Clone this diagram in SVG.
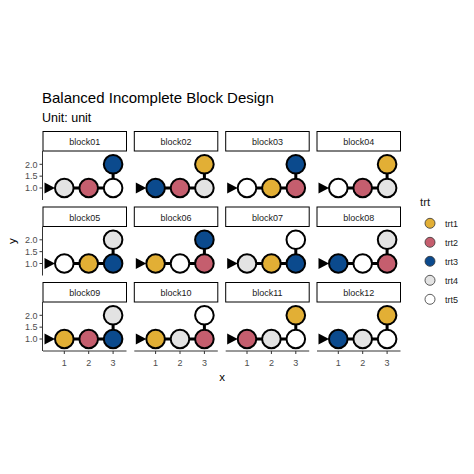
<svg xmlns="http://www.w3.org/2000/svg" width="474" height="474" viewBox="0 0 474 474">
<style>
text{font-family:"Liberation Sans",Arial,sans-serif}
.title{font-size:15px;fill:#000}
.sub{font-size:12.5px;fill:#000}
.strip rect{fill:#fff;stroke:#000;stroke-width:1}
.strip text{font-size:9px;fill:#1a1a1a;text-anchor:middle}
.pt{stroke:#000;stroke-width:2}
.t1{fill:#E2AF35}.t2{fill:#C55E6E}.t3{fill:#0B4A8D}.t4{fill:#E3E3E3}.t5{fill:#FFFFFF}
.conn path{stroke:#000;stroke-width:3;fill:none}
.conn polygon{fill:#000}
.axis line{stroke:#333;stroke-width:1}
.tick{font-size:9px;fill:#4d4d4d}
.atitle{font-size:11.5px;fill:#000}
.leg circle{stroke:#333;stroke-width:0.8}
.leg text{font-size:9px;fill:#1a1a1a}
</style>
<text class="title" x="42" y="103">Balanced Incomplete Block Design</text>
<text class="sub" x="42" y="122">Unit: unit</text>

<g class="conn" id="connectors">
<path d="M64.3 188H113.1V164.3"/><polygon points="44.5,182.5 44.5,193.5 55,188"/>
<path d="M155.6 188H204.4V164.3"/><polygon points="135.8,182.5 135.8,193.5 146.3,188"/>
<path d="M247 188H295.8V164.3"/><polygon points="227.2,182.5 227.2,193.5 237.7,188"/>
<path d="M338.3 188H387.1V164.3"/><polygon points="318.5,182.5 318.5,193.5 329,188"/>
<path d="M64.3 263.5H113.1V239.8"/><polygon points="44.5,258 44.5,269 55,263.5"/>
<path d="M155.6 263.5H204.4V239.8"/><polygon points="135.8,258 135.8,269 146.3,263.5"/>
<path d="M247 263.5H295.8V239.8"/><polygon points="227.2,258 227.2,269 237.7,263.5"/>
<path d="M338.3 263.5H387.1V239.8"/><polygon points="318.5,258 318.5,269 329,263.5"/>
<path d="M64.3 339H113.1V315.3"/><polygon points="44.5,333.5 44.5,344.5 55,339"/>
<path d="M155.6 339H204.4V315.3"/><polygon points="135.8,333.5 135.8,344.5 146.3,339"/>
<path d="M247 339H295.8V315.3"/><polygon points="227.2,333.5 227.2,344.5 237.7,339"/>
<path d="M338.3 339H387.1V315.3"/><polygon points="318.5,333.5 318.5,344.5 329,339"/>
</g>

<g id="block01" transform="translate(43,151)">
<g class="strip"><rect x="0" y="-19.5" width="83.5" height="19.5"/><text x="41.75" y="-6">block01</text></g>
<circle class="pt t4" cx="21.3" cy="37" r="9.3"/><circle class="pt t2" cx="45.7" cy="37" r="9.3"/><circle class="pt t5" cx="70.1" cy="37" r="9.3"/><circle class="pt t3" cx="70.1" cy="13.3" r="9.3"/>
</g>
<g id="block02" transform="translate(134.3,151)">
<g class="strip"><rect x="0" y="-19.5" width="83.5" height="19.5"/><text x="41.75" y="-6">block02</text></g>
<circle class="pt t3" cx="21.3" cy="37" r="9.3"/><circle class="pt t2" cx="45.7" cy="37" r="9.3"/><circle class="pt t4" cx="70.1" cy="37" r="9.3"/><circle class="pt t1" cx="70.1" cy="13.3" r="9.3"/>
</g>
<g id="block03" transform="translate(225.7,151)">
<g class="strip"><rect x="0" y="-19.5" width="83.5" height="19.5"/><text x="41.75" y="-6">block03</text></g>
<circle class="pt t5" cx="21.3" cy="37" r="9.3"/><circle class="pt t1" cx="45.7" cy="37" r="9.3"/><circle class="pt t2" cx="70.1" cy="37" r="9.3"/><circle class="pt t3" cx="70.1" cy="13.3" r="9.3"/>
</g>
<g id="block04" transform="translate(317,151)">
<g class="strip"><rect x="0" y="-19.5" width="83.5" height="19.5"/><text x="41.75" y="-6">block04</text></g>
<circle class="pt t5" cx="21.3" cy="37" r="9.3"/><circle class="pt t2" cx="45.7" cy="37" r="9.3"/><circle class="pt t4" cx="70.1" cy="37" r="9.3"/><circle class="pt t1" cx="70.1" cy="13.3" r="9.3"/>
</g>

<g id="block05" transform="translate(43,226.5)">
<g class="strip"><rect x="0" y="-19.5" width="83.5" height="19.5"/><text x="41.75" y="-6">block05</text></g>
<circle class="pt t5" cx="21.3" cy="37" r="9.3"/><circle class="pt t1" cx="45.7" cy="37" r="9.3"/><circle class="pt t3" cx="70.1" cy="37" r="9.3"/><circle class="pt t4" cx="70.1" cy="13.3" r="9.3"/>
</g>
<g id="block06" transform="translate(134.3,226.5)">
<g class="strip"><rect x="0" y="-19.5" width="83.5" height="19.5"/><text x="41.75" y="-6">block06</text></g>
<circle class="pt t1" cx="21.3" cy="37" r="9.3"/><circle class="pt t5" cx="45.7" cy="37" r="9.3"/><circle class="pt t2" cx="70.1" cy="37" r="9.3"/><circle class="pt t3" cx="70.1" cy="13.3" r="9.3"/>
</g>
<g id="block07" transform="translate(225.7,226.5)">
<g class="strip"><rect x="0" y="-19.5" width="83.5" height="19.5"/><text x="41.75" y="-6">block07</text></g>
<circle class="pt t4" cx="21.3" cy="37" r="9.3"/><circle class="pt t1" cx="45.7" cy="37" r="9.3"/><circle class="pt t3" cx="70.1" cy="37" r="9.3"/><circle class="pt t5" cx="70.1" cy="13.3" r="9.3"/>
</g>
<g id="block08" transform="translate(317,226.5)">
<g class="strip"><rect x="0" y="-19.5" width="83.5" height="19.5"/><text x="41.75" y="-6">block08</text></g>
<circle class="pt t3" cx="21.3" cy="37" r="9.3"/><circle class="pt t5" cx="45.7" cy="37" r="9.3"/><circle class="pt t2" cx="70.1" cy="37" r="9.3"/><circle class="pt t4" cx="70.1" cy="13.3" r="9.3"/>
</g>

<g id="block09" transform="translate(43,302)">
<g class="strip"><rect x="0" y="-19.5" width="83.5" height="19.5"/><text x="41.75" y="-6">block09</text></g>
<circle class="pt t1" cx="21.3" cy="37" r="9.3"/><circle class="pt t2" cx="45.7" cy="37" r="9.3"/><circle class="pt t3" cx="70.1" cy="37" r="9.3"/><circle class="pt t4" cx="70.1" cy="13.3" r="9.3"/>
</g>
<g id="block10" transform="translate(134.3,302)">
<g class="strip"><rect x="0" y="-19.5" width="83.5" height="19.5"/><text x="41.75" y="-6">block10</text></g>
<circle class="pt t1" cx="21.3" cy="37" r="9.3"/><circle class="pt t4" cx="45.7" cy="37" r="9.3"/><circle class="pt t2" cx="70.1" cy="37" r="9.3"/><circle class="pt t5" cx="70.1" cy="13.3" r="9.3"/>
</g>
<g id="block11" transform="translate(225.7,302)">
<g class="strip"><rect x="0" y="-19.5" width="83.5" height="19.5"/><text x="41.75" y="-6">block11</text></g>
<circle class="pt t2" cx="21.3" cy="37" r="9.3"/><circle class="pt t4" cx="45.7" cy="37" r="9.3"/><circle class="pt t5" cx="70.1" cy="37" r="9.3"/><circle class="pt t1" cx="70.1" cy="13.3" r="9.3"/>
</g>
<g id="block12" transform="translate(317,302)">
<g class="strip"><rect x="0" y="-19.5" width="83.5" height="19.5"/><text x="41.75" y="-6">block12</text></g>
<circle class="pt t3" cx="21.3" cy="37" r="9.3"/><circle class="pt t4" cx="45.7" cy="37" r="9.3"/><circle class="pt t5" cx="70.1" cy="37" r="9.3"/><circle class="pt t1" cx="70.1" cy="13.3" r="9.3"/>
</g>

<g class="axis" id="yaxis">
<line x1="42.5" y1="151" x2="42.5" y2="200"/>
<line x1="42.5" y1="226.5" x2="42.5" y2="275.5"/>
<line x1="42.5" y1="302" x2="42.5" y2="351"/>
<line x1="39.5" y1="164.3" x2="42.5" y2="164.3"/><line x1="39.5" y1="176.15" x2="42.5" y2="176.15"/><line x1="39.5" y1="188" x2="42.5" y2="188"/>
<line x1="39.5" y1="239.8" x2="42.5" y2="239.8"/><line x1="39.5" y1="251.65" x2="42.5" y2="251.65"/><line x1="39.5" y1="263.5" x2="42.5" y2="263.5"/>
<line x1="39.5" y1="315.3" x2="42.5" y2="315.3"/><line x1="39.5" y1="327.15" x2="42.5" y2="327.15"/><line x1="39.5" y1="339" x2="42.5" y2="339"/>
<g class="tick" text-anchor="end">
<text x="37.5" y="167.5">2.0</text><text x="37.5" y="179.3">1.5</text><text x="37.5" y="191.2">1.0</text>
<text x="37.5" y="243">2.0</text><text x="37.5" y="254.8">1.5</text><text x="37.5" y="266.7">1.0</text>
<text x="37.5" y="318.5">2.0</text><text x="37.5" y="330.3">1.5</text><text x="37.5" y="342.2">1.0</text>
</g>
</g>
<g class="axis" id="xaxis">
<line x1="43" y1="351" x2="126.5" y2="351"/>
<line x1="134.3" y1="351" x2="217.8" y2="351"/>
<line x1="225.7" y1="351" x2="309.2" y2="351"/>
<line x1="317" y1="351" x2="400.5" y2="351"/>
<line x1="64.3" y1="351" x2="64.3" y2="354"/><line x1="88.7" y1="351" x2="88.7" y2="354"/><line x1="113.1" y1="351" x2="113.1" y2="354"/>
<line x1="155.6" y1="351" x2="155.6" y2="354"/><line x1="180" y1="351" x2="180" y2="354"/><line x1="204.4" y1="351" x2="204.4" y2="354"/>
<line x1="247" y1="351" x2="247" y2="354"/><line x1="271.4" y1="351" x2="271.4" y2="354"/><line x1="295.8" y1="351" x2="295.8" y2="354"/>
<line x1="338.3" y1="351" x2="338.3" y2="354"/><line x1="362.7" y1="351" x2="362.7" y2="354"/><line x1="387.1" y1="351" x2="387.1" y2="354"/>
<g class="tick" text-anchor="middle">
<text x="64.3" y="366">1</text><text x="88.7" y="366">2</text><text x="113.1" y="366">3</text>
<text x="155.6" y="366">1</text><text x="180" y="366">2</text><text x="204.4" y="366">3</text>
<text x="247" y="366">1</text><text x="271.4" y="366">2</text><text x="295.8" y="366">3</text>
<text x="338.3" y="366">1</text><text x="362.7" y="366">2</text><text x="387.1" y="366">3</text>
</g>
</g>
<text class="atitle" x="222" y="381" text-anchor="middle">x</text>
<text class="atitle" x="0" y="0" text-anchor="middle" transform="translate(16,241) rotate(-90)">y</text>

<g class="leg" id="legend">
<text x="420" y="206" style="font-size:11.5px">trt</text>
<circle class="t1" cx="430" cy="223.3" r="5"/><text x="445" y="226.5">trt1</text>
<circle class="t2" cx="430" cy="242.3" r="5"/><text x="445" y="245.5">trt2</text>
<circle class="t3" cx="430" cy="261.3" r="5"/><text x="445" y="264.5">trt3</text>
<circle class="t4" cx="430" cy="280.3" r="5"/><text x="445" y="283.5">trt4</text>
<circle class="t5" cx="430" cy="299.3" r="5"/><text x="445" y="302.5">trt5</text>
</g>
</svg>
